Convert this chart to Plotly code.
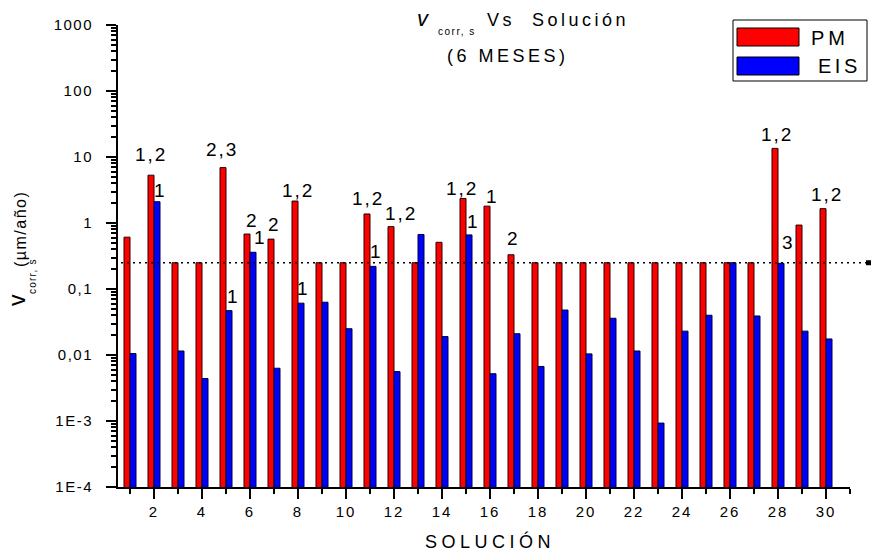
import math
import plotly.graph_objects as go

# Corrosion rate per solution after 6 months (µm/año)
solutions = list(range(1, 31))
pm_values = [0.61, 5.3, 0.25, 0.25, 6.9, 0.68, 0.57, 2.15, 0.25, 0.25,
             1.37, 0.88, 0.25, 0.51, 2.35, 1.8, 0.33, 0.25, 0.25, 0.25,
             0.25, 0.25, 0.25, 0.25, 0.25, 0.25, 0.25, 13.5, 0.93, 1.65]
eis_values = [0.0105, 2.1, 0.0115, 0.0044, 0.047, 0.36, 0.0063, 0.061, 0.063, 0.025,
              0.22, 0.0056, 0.67, 0.019, 0.66, 0.0052, 0.021, 0.0067, 0.048, 0.0104,
              0.036, 0.0115, 0.00093, 0.023, 0.040, 0.25, 0.039, 0.245, 0.023, 0.0175]
limit_value = 0.25

# Significance labels drawn above bars: (solution, series, text)
bar_labels = [(2, "PM", "1,2"), (2, "EIS", "1"), (5, "PM", "2,3"), (5, "EIS", "1"),
              (6, "PM", "2"), (6, "EIS", "1"), (7, "PM", "2"), (8, "PM", "1,2"),
              (8, "EIS", "1"), (11, "PM", "1,2"), (11, "EIS", "1"), (12, "PM", "1,2"),
              (15, "PM", "1,2"), (15, "EIS", "1"), (16, "PM", "1"), (17, "PM", "2"),
              (28, "PM", "1,2"), (28, "EIS", "3"), (30, "PM", "1,2")]

y_tick_vals = [1e-4, 1e-3, 1e-2, 1e-1, 1, 10, 100, 1000]
y_tick_text = ["1E-4", "1E-3", "0,01", "0,1", "1", "10", "100", "1000"]
x_tick_vals = list(range(2, 31, 2))

# ---- layout geometry ----
W, H = 872, 555
ML, MR, MT, MB = 118, 22, 25, 68
PW, PH = W - ML - MR, H - MT - MB
FONT = "Liberation Sans, Arial, sans-serif"


def px_x(px):
    return (px - ML) / PW


def px_y(py):
    return (H - MB - py) / PH


def spaced(text, s):
    return f'<span style="letter-spacing:{s}px">{text}</span>'


fig = go.Figure()
fig.add_trace(go.Bar(x=solutions, y=pm_values, name="PM", width=0.25, offset=-0.25,
                     marker=dict(color="#FF0000", line=dict(color="#220000", width=1))))
fig.add_trace(go.Bar(x=solutions, y=eis_values, name="EIS", width=0.25, offset=0,
                     marker=dict(color="#0000FF", line=dict(color="#000033", width=1))))

# label offsets in px (dx, dy) relative to the bar top
label_shift = {(2, "PM"): (0, 21), (2, "EIS"): (3, 11), (5, "PM"): (-1, 18), (5, "EIS"): (4, 14),
               (6, "PM"): (5, 14), (6, "EIS"): (7, 15), (7, "PM"): (3, 15), (8, "PM"): (3, 11),
               (8, "EIS"): (2, 15), (11, "PM"): (1, 15), (11, "EIS"): (3, 15), (12, "PM"): (10, 13),
               (15, "PM"): (-1, 10), (15, "EIS"): (4, 13), (16, "PM"): (5, 10), (17, "PM"): (2, 16),
               (28, "PM"): (2, 14), (28, "EIS"): (7, 21), (30, "PM"): (4, 14)}

annotations = []
for sol, series, text in bar_labels:
    vals = pm_values if series == "PM" else eis_values
    v = vals[solutions.index(sol)]
    xc = sol - 0.125 if series == "PM" else sol + 0.125
    dx, dy = label_shift[(sol, series)]
    annotations.append(dict(x=xc, y=math.log10(v), xref="x", yref="y", text=spaced(text, 2),
                            showarrow=False, xanchor="center", yanchor="middle",
                            xshift=dx, yshift=dy, font=dict(family=FONT, size=19, color="black")))


def txt(text, x, y, size, xanchor="center", angle=0, italic=False):
    style = "italic" if italic else "normal"
    annotations.append(dict(x=px_x(x), y=px_y(y), xref="paper", yref="paper", text=text,
                            showarrow=False, xanchor=xanchor, yanchor="middle", textangle=angle,
                            font=dict(family=FONT, size=size, color="black", style=style)))


# title
txt("v", 423, 18, 22, italic=True)
txt(spaced("corr, s", 1.5), 457, 31, 10)
txt(spaced("Vs  Solución", 3.5), 485, 20, 18, xanchor="left")
txt(spaced("(6 MESES)", 3.5), 508, 56, 18)
# y-axis title
txt("v", 17, 300, 23, angle=-90)
txt(spaced("corr, s", 1.2), 32, 276, 10, angle=-90)
txt(spaced("(µm/año)", 1.5), 20, 229, 16, angle=-90)
# x-axis title
txt(spaced("SOLUCIÓN", 4.5), 490, 541, 18)
# legend text
txt(spaced("PM", 4), 809, 38, 20, xanchor="left")
txt(spaced("EIS", 3.5), 816, 66, 20, xanchor="left")

limit_y = (math.log10(limit_value) + 4) / 7
shapes = [
    dict(type="line", xref="paper", yref="paper", x0=px_x(121), x1=px_x(866), y0=limit_y, y1=limit_y,
         line=dict(color="black", width=1.5, dash="2px,4px")),
    dict(type="rect", xref="paper", yref="paper", x0=px_x(866), x1=px_x(871),
         y0=limit_y - 2.5 / PH, y1=limit_y + 2.5 / PH, fillcolor="black", line=dict(width=0)),
    # legend
    dict(type="rect", xref="paper", yref="paper", x0=px_x(733), x1=px_x(867), y0=px_y(81), y1=px_y(20),
         fillcolor="white", line=dict(color="black", width=1)),
    dict(type="rect", xref="paper", yref="paper", x0=px_x(737), x1=px_x(799), y0=px_y(46), y1=px_y(28),
         fillcolor="#FF0000", line=dict(color="black", width=1)),
    dict(type="rect", xref="paper", yref="paper", x0=px_x(737), x1=px_x(799), y0=px_y(75), y1=px_y(57),
         fillcolor="#0000FF", line=dict(color="black", width=1)),
]

fig.update_layout(
    width=W, height=H, margin=dict(l=ML, r=MR, t=MT, b=MB, pad=0),
    paper_bgcolor="white", plot_bgcolor="white", showlegend=False,
    barmode="overlay", annotations=annotations, shapes=shapes,
    font=dict(family=FONT, size=15, color="black"),
)
fig.update_xaxes(
    range=[0.5, 31], tickmode="array", tickvals=x_tick_vals,
    ticktext=[spaced(str(v), 2) for v in x_tick_vals],
    ticks="outside", ticklen=10, tickwidth=2, tickcolor="black",
    showline=True, linecolor="black", linewidth=2, showgrid=False, zeroline=False,
    tickfont=dict(family=FONT, size=15),
    minor=dict(tickmode="linear", tick0=1, dtick=2, ticks="outside", ticklen=5,
               tickwidth=2, tickcolor="black", showgrid=False),
)
fig.update_yaxes(
    type="log", range=[-4, 3], tickmode="array", tickvals=y_tick_vals,
    ticktext=[spaced(t, 1.5) for t in y_tick_text],
    ticks="outside", ticklen=10, tickwidth=2, tickcolor="black", ticklabelstandoff=10,
    showline=True, linecolor="black", linewidth=2, showgrid=False, zeroline=False,
    tickfont=dict(family=FONT, size=15),
    minor=dict(dtick="D1", ticks="outside", ticklen=5, tickwidth=1.5,
               tickcolor="black", showgrid=False),
)

fig.write_html("out.html")
